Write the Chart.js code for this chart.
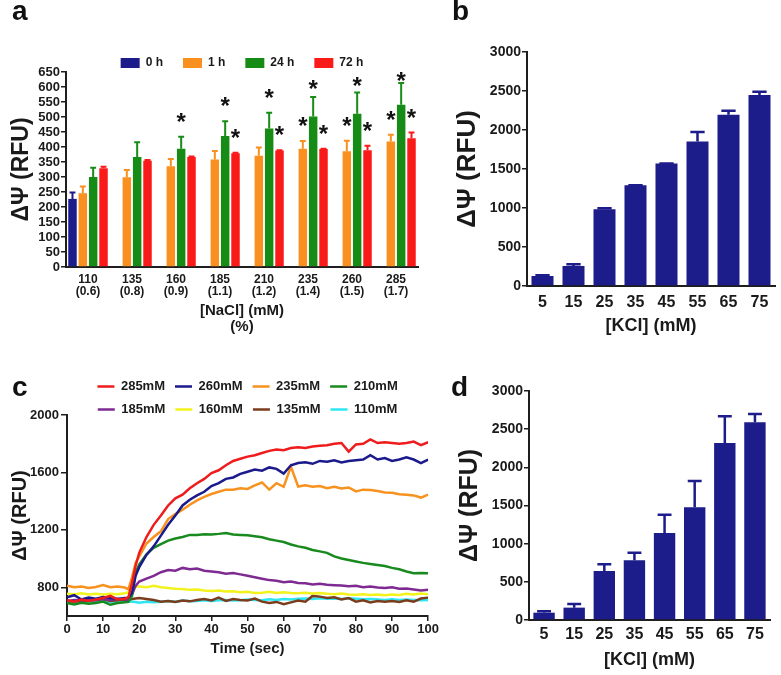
<!DOCTYPE html>
<html>
<head>
<meta charset="utf-8">
<script src="https://cdn.jsdelivr.net/npm/chart.js@4.4.0/dist/chart.umd.min.js"></script>
<style>
body { margin: 0; background: #fff; }
#wrap { position: relative; width: 781px; height: 675px; overflow: hidden; }
canvas { position: absolute; }
.lbl { position: absolute; font: bold 28px "Liberation Sans", Arial, sans-serif; line-height: 1; color: #111; }
</style>
</head>
<body>
<div id="wrap">
	<canvas id="chart-a" width="440" height="340" style="left:0px;top:0px"></canvas>
	<canvas id="chart-b" width="341" height="340" style="left:440px;top:0px"></canvas>
	<canvas id="chart-c" width="440" height="335" style="left:0px;top:340px"></canvas>
	<canvas id="chart-d" width="341" height="335" style="left:440px;top:340px"></canvas>
	<div class="lbl" style="left:12px;top:-3px">a</div>
	<div class="lbl" style="left:452px;top:-3px">b</div>
	<div class="lbl" style="left:12px;top:373px">c</div>
	<div class="lbl" style="left:451px;top:373px">d</div>
</div>
<script>
// panel a : NaCl, 4 time points
var naclMM  = ['110', '135', '160', '185', '210', '235', '260', '285'];
var naclPct = ['(0.6)', '(0.8)', '(0.9)', '(1.1)', '(1.2)', '(1.4)', '(1.5)', '(1.7)'];
var h0   = [227, null, null, null, null, null, null, null];
var h0Sd = [21, 0, 0, 0, 0, 0, 0, 0];
var h1   = [246, 299, 336, 358, 371, 394, 386, 418];
var h1Sd = [22, 24, 24, 29, 27, 26, 35, 23];
var h24   = [300, 367, 394, 437, 462, 502, 511, 541];
var h24Sd = [31, 49, 40, 49, 52, 65, 71, 72];
var h72   = [329, 354, 367, 379, 388, 393, 389, 429];
var h72Sd = [5, 3, 1, 2, 1, 1, 15, 19];
var h1Star  = [0, 0, 0, 0, 0, 1, 1, 1];
var h24Star = [0, 0, 1, 1, 1, 1, 1, 1];
var h72Star = [0, 0, 0, 1, 1, 1, 1, 1];

// panels b and d : KCl
var kclMM = ['5', '15', '25', '35', '45', '55', '65', '75'];
var kclB   = [128, 257, 984, 1292, 1570, 1853, 2195, 2448];
var kclBSd = [9, 21, 13, 0, 2, 120, 51, 42];
var kclD   = [96, 162, 642, 782, 1140, 1476, 2319, 2590];
var kclDSd = [17, 48, 87, 100, 240, 345, 349, 109];

// panel c : time course
var times = [0,2,4,6,8,10,12,14,16,17,18,19,20,22,24,26,28,30,32,34,36,38,40,42,44,46,48,50,52,54,56,58,60,62,64,66,68,70,72,74,76,78,80,82,84,86,88,90,92,94,96,98,100];
var mM285 = [710,700,715,705,715,725,740,715,720,730,830,950,1040,1150,1235,1300,1370,1420,1445,1490,1525,1555,1595,1615,1650,1680,1695,1710,1720,1735,1750,1760,1755,1770,1775,1770,1780,1785,1790,1800,1805,1745,1795,1800,1830,1805,1810,1805,1800,1805,1815,1790,1810];
var mM260 = [730,745,715,728,720,732,725,718,725,728,760,880,940,1025,1085,1160,1235,1300,1370,1410,1440,1465,1505,1525,1555,1565,1590,1605,1620,1612,1635,1625,1592,1650,1665,1670,1660,1680,1675,1685,1670,1680,1685,1690,1720,1690,1700,1680,1690,1705,1690,1665,1690];
var mM235 = [810,800,805,795,802,815,800,805,798,785,870,970,1015,1105,1150,1190,1275,1310,1340,1375,1405,1430,1450,1465,1480,1480,1490,1485,1510,1530,1480,1525,1500,1640,1502,1510,1500,1505,1490,1500,1488,1495,1468,1480,1478,1470,1460,1458,1448,1444,1440,1425,1445];
var mM210 = [690,680,692,685,690,700,678,690,695,698,740,900,960,1030,1075,1100,1125,1140,1150,1165,1165,1170,1168,1172,1178,1168,1165,1162,1155,1148,1135,1125,1115,1098,1085,1075,1060,1050,1040,1015,1000,990,980,970,962,955,948,935,925,910,898,900,898];
var mM185 = [705,712,708,715,710,718,712,720,715,712,750,810,840,860,880,905,920,915,935,925,930,915,910,905,895,900,890,880,870,860,850,845,835,840,830,828,820,825,818,815,812,808,810,800,805,798,795,800,790,792,785,778,782];
var mM160 = [755,752,758,750,755,750,755,752,758,765,790,805,805,800,810,800,795,790,788,782,785,778,775,778,770,772,765,768,760,762,768,760,765,760,758,762,756,760,755,752,756,750,748,752,746,750,745,750,746,755,750,756,752];
var mM135 = [700,705,698,708,712,718,705,710,715,712,718,722,725,718,712,700,705,698,708,702,712,718,708,728,705,718,712,708,722,700,690,698,682,695,708,700,740,735,725,730,715,725,700,710,695,705,700,705,698,710,700,722,728];
var mM110 = [695,700,690,700,695,705,698,702,700,702,700,698,692,700,695,700,705,700,708,702,705,710,705,710,712,708,710,715,712,710,716,712,718,715,720,722,718,724,720,722,718,724,720,716,718,715,712,716,712,715,712,710,712];
var cNames = ['285mM', '260mM', '235mM', '210mM', '185mM', '160mM', '135mM', '110mM'];
var cSeries = [mM285, mM260, mM235, mM210, mM185, mM160, mM135, mM110];
var yTicksC = [800, 1200, 1600, 2000];

var cColors = ['#ee1c1c', '#1a1a8c', '#f7921e', '#188a1e', '#7e2a92', '#f2f21c', '#7a3c1c', '#2ee6f2'];
var navy = '#1c1c8a';
var axisCol = '#1e1e1e';

Chart.defaults.font.family = '"Liberation Sans", Arial, sans-serif';
Chart.defaults.font.weight = 'bold';
Chart.defaults.color = '#1a1a1a';

// error bars (upper only) and significance stars
var errBars = {
	id: 'errBars',
	afterDatasetsDraw: function(chart) {
		var ctx = chart.ctx;
		var ys = chart.scales.y;
		chart.data.datasets.forEach(function(ds, i) {
			if (!ds.sd) return;
			var meta = chart.getDatasetMeta(i);
			meta.data.forEach(function(bar, j) {
				if (ds.data[j] == null) return;
				var top = ys.getPixelForValue(ds.data[j] + ds.sd[j]);
				var w = bar.width * ds.capRatio;
				ctx.save();
				ctx.strokeStyle = ds.backgroundColor;
				ctx.lineWidth = ds.errWidth;
				ctx.beginPath();
				ctx.moveTo(bar.x, bar.y);
				ctx.lineTo(bar.x, top);
				ctx.moveTo(bar.x - w / 2, top);
				ctx.lineTo(bar.x + w / 2, top);
				ctx.stroke();
				if (ds.stars && ds.stars[j]) {
					var d = top - chart.chartArea.top;
					var off = Math.min(20, 3 + 0.4 * d);
					ctx.fillStyle = '#111';
					ctx.font = 'bold 24px "Liberation Sans", Arial, sans-serif';
					ctx.textAlign = 'center';
					ctx.textBaseline = 'alphabetic';
					ctx.fillText('*', bar.x, top - off + 13);
				}
				ctx.restore();
			});
		});
	}
};

function barSet(label, data, sd, color, stars) {
	return {
		label: label,
		data: data,
		sd: sd,
		stars: stars,
		backgroundColor: color,
		borderWidth: 0,
		capRatio: 0.7,
		errWidth: 2,
		categoryPercentage: 0.94,
		barPercentage: 0.82
	};
}

new Chart(document.getElementById('chart-a'), {
	type: 'bar',
	data: {
		labels: naclMM.map(function(m, i) { return [m, naclPct[i]]; }),
		datasets: [
			barSet('0 h', h0, h0Sd, navy, null),
			barSet('1 h', h1, h1Sd, '#f9901f', h1Star),
			barSet('24 h', h24, h24Sd, '#168c16', h24Star),
			barSet('72 h', h72, h72Sd, '#fb1a1a', h72Star)
		]
	},
	options: {
		responsive: false,
		animation: false,
		layout: { padding: { top: 37, right: 22, left: 0, bottom: 0 } },
		plugins: {
			legend: {
				fullSize: false,
				maxHeight: 35,
				labels: { boxWidth: 19, boxHeight: 10, padding: 20, font: { size: 12, weight: 'bold' } }
			},
			tooltip: { enabled: false }
		},
		scales: {
			x: {
				ticks: { font: { size: 12, weight: 'bold', lineHeight: 1.0 }, padding: 7, maxRotation: 0, autoSkip: false },
				grid: { drawOnChartArea: false, drawTicks: false },
				border: { color: axisCol, width: 2 },
				title: { display: true, text: ['[NaCl] (mM)', '(%)'], font: { size: 15, weight: 'bold', lineHeight: 1.07 }, padding: { top: 0, bottom: 5 } },
				afterFit: function(s) { s.height = 73; }
			},
			y: {
				min: 0,
				max: 650,
				ticks: { stepSize: 50, autoSkip: false, font: { size: 13, weight: 'bold' }, padding: 1 },
				grid: { drawOnChartArea: false, tickLength: 5, color: axisCol, lineWidth: 1.5 },
				border: { color: axisCol, width: 2 },
				title: { display: true, text: 'ΔΨ (RFU)', font: { size: 23, weight: 'bold' }, padding: { top: 8, bottom: 0 } },
				afterFit: function(s) { s.width = 66; }
			}
		}
	},
	plugins: [errBars]
});

function kclChart(id, values, sd, pad, yWidth, xHeight, xPad, titlePad, yTitleSize, yTitlePad) {
	new Chart(document.getElementById(id), {
		type: 'bar',
		data: {
			labels: kclMM,
			datasets: [{
				label: 'KCl',
				data: values,
				sd: sd,
				backgroundColor: navy,
				borderWidth: 0,
				capRatio: 0.65,
				errWidth: 2.5,
				categoryPercentage: 1.0,
				barPercentage: 0.71
			}]
		},
		options: {
			responsive: false,
			animation: false,
			layout: { padding: pad },
			plugins: { legend: { display: false }, tooltip: { enabled: false } },
			scales: {
				x: {
					ticks: { font: { size: 16, weight: 'bold' }, padding: xPad, maxRotation: 0, autoSkip: false },
					grid: { drawOnChartArea: false, drawTicks: false },
					border: { color: axisCol, width: 2 },
					title: { display: true, text: '[KCl] (mM)', font: { size: 18, weight: 'bold' }, padding: { top: 0, bottom: titlePad } },
					afterFit: function(s) { s.height = xHeight; }
				},
				y: {
					min: 0,
					max: 3000,
					ticks: { stepSize: 500, autoSkip: false, format: { useGrouping: false }, font: { size: 14, weight: 'bold' }, padding: 1 },
					grid: { drawOnChartArea: false, tickLength: 5, color: axisCol, lineWidth: 1.5 },
					border: { color: axisCol, width: 2 },
					title: { display: true, text: 'ΔΨ (RFU)', font: { size: yTitleSize, weight: 'bold' }, padding: { top: yTitlePad, bottom: 0 } },
					afterFit: function(s) { s.width = yWidth; }
				}
			}
		},
		plugins: [errBars]
	});
}

kclChart('chart-b', kclB, kclBSd, { top: 52, right: 6, left: 0, bottom: 0 }, 87, 54, 7, 3, 26, 12);
kclChart('chart-d', kclD, kclDSd, { top: 51, right: 11, left: 0, bottom: 0 }, 89, 55, 5, 4, 25, 15);

new Chart(document.getElementById('chart-c'), {
	type: 'line',
	data: {
		datasets: cSeries.map(function(s, k) {
			return {
				label: cNames[k],
				data: times.map(function(t, i) { return { x: t, y: s[i] }; }),
				borderColor: cColors[k],
				backgroundColor: cColors[k],
				borderWidth: 2.5,
				pointRadius: 0,
				fill: false
			};
		})
	},
	options: {
		responsive: false,
		animation: false,
		layout: { padding: { top: 30, right: 11, left: 0, bottom: 0 } },
		plugins: {
			legend: {
				fullSize: false,
				maxHeight: 45,
				labels: { usePointStyle: true, pointStyle: 'line', pointStyleWidth: 17, padding: 10, font: { size: 13, weight: 'bold' } }
			},
			tooltip: { enabled: false }
		},
		scales: {
			x: {
				type: 'linear',
				min: 0,
				max: 100,
				ticks: { stepSize: 10, font: { size: 13, weight: 'bold' }, padding: 1, maxRotation: 0 },
				grid: { drawOnChartArea: false, tickLength: 5, color: axisCol, lineWidth: 1.5 },
				border: { color: axisCol, width: 2 },
				title: { display: true, text: 'Time (sec)', font: { size: 15, weight: 'bold' }, padding: { top: 0, bottom: 17 } },
				afterFit: function(s) { s.height = 59; }
			},
			y: {
				min: 600,
				max: 2000,
				afterBuildTicks: function(s) { s.ticks = yTicksC.map(function(v) { return { value: v }; }); },
				ticks: { format: { useGrouping: false }, font: { size: 13, weight: 'bold' }, padding: 2 },
				grid: { drawOnChartArea: false, tickLength: 6, color: axisCol, lineWidth: 1.5 },
				border: { color: axisCol, width: 2 },
				title: { display: true, text: 'ΔΨ (RFU)', font: { size: 20, weight: 'bold' }, padding: { top: 8, bottom: 0 } },
				afterFit: function(s) { s.width = 67; }
			}
		}
	}
});
</script>
</body>
</html>
